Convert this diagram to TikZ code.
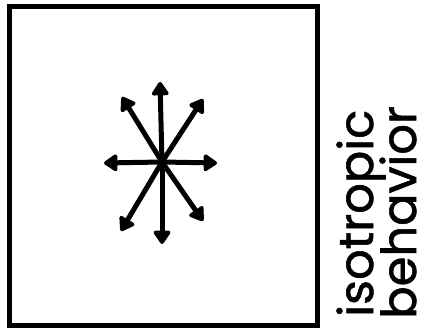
\documentclass[tikz,border=0pt]{standalone}
\usepackage{fontspec}
\setmainfont{Poppins}
\newfontfamily\lblfont[FakeBold=1.2]{Poppins}
\usetikzlibrary{arrows.meta}
\begin{document}
\begin{tikzpicture}[x=1pt,y=1pt,
  ray/.style={line width=5pt,-{Triangle[length=15pt,width=19pt,round]}},
  frame/.style={line width=5pt},
  lbl/.style={rotate=90,anchor=base west,inner sep=0pt,font=\lblfont\fontsize{48}{48}\selectfont}]
\useasboundingbox (0,0) rectangle (427,327);
\draw[frame] (9.5,2) rectangle (317.5,320.5);
\coordinate (c) at (162,165);
\coordinate (tu) at (160,245);
\coordinate (td) at (162,83);
\coordinate (tl) at (104,164);
\coordinate (tr) at (217,164);
\coordinate (tul) at (122,230);
\coordinate (tur) at (203,228);
\coordinate (tll) at (121,96);
\coordinate (tlr) at (203,106);
\foreach \t in {tu,td,tl,tr,tul,tur,tll,tlr} \draw[ray] (c) -- (\t);
\node[lbl] (t1) at (373,10) {isotropic};
\node[lbl] (t2) at (416,8) {behavior};
\end{tikzpicture}
\end{document}
